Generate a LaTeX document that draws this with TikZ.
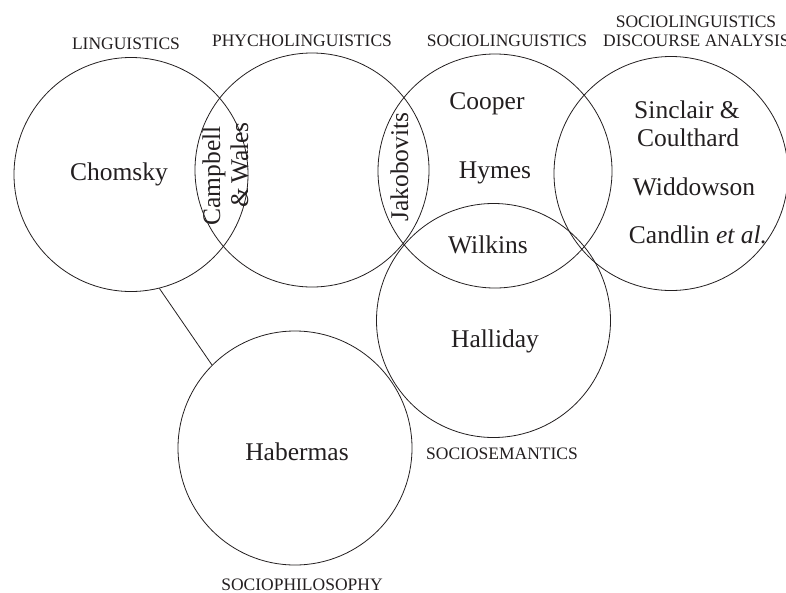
\documentclass[tikz,border=0pt]{standalone}
\usepackage{fontspec}
\setmainfont{Liberation Serif}
\definecolor{ink}{HTML}{231F20}
\begin{document}
\begin{tikzpicture}[x=1pt,y=-1pt,
  field/.style={circle,draw=ink,line width=0.8pt,minimum size=234pt,inner sep=0pt},
  area/.style={font=\fontsize{17.5}{19}\selectfont,text=ink,inner sep=0pt,anchor=base},
  who/.style={font=\fontsize{25.5}{28}\selectfont,text=ink,inner sep=0pt,anchor=base},
  link/.style={draw=ink,line width=0.8pt}]
\useasboundingbox (0,0) rectangle (786,592);
% circles
\node[field] (c1) at (131,174.5) {};
\node[field] (c2) at (312,170) {};
\node[field] (c3) at (495,171) {};
\node[field] (c4) at (671,173.5) {};
\node[field] (c5) at (493.5,320.5) {};
\node[field] (c6) at (295,448) {};
\draw[link] (c1.-76) -- (c6.135);
% field labels
\node[area] (l1) at (126,49) {LINGUISTICS};
\node[area] (l2) at (302,46) {PHYCHOLINGUISTICS};
\node[area] (l3) at (507,46) {SOCIOLINGUISTICS};
\node[area] (l4a) at (696,27) {SOCIOLINGUISTICS};
\node[area,anchor=base west] (l4b) at (603,46) {DISCOURSE ANALYSIS};
\node[area] (l5) at (502,459) {SOCIOSEMANTICS};
\node[area] (l6) at (302,590) {SOCIOPHILOSOPHY};
% names
\node[who] (chomsky) at (119,180) {Chomsky};
\node[who,rotate=90] (campbell) at (220,176) {Campbell};
\node[who,rotate=90] (wales) at (248,165) {\&\,Wales};
\node[who,rotate=90] (jako) at (408,167) {Jakobovits};
\node[who] (cooper) at (487,109) {Cooper};
\node[who] (hymes) at (495,178) {Hymes};
\node[who] (wilkins) at (488,253) {Wilkins};
\node[who] (sinclair) at (687,118) {Sinclair \&};
\node[who] (coulthard) at (688,146) {Coulthard};
\node[who] (widdowson) at (694,195) {Widdowson};
\node[who] (candlin) at (698,243) {Candlin \textit{et al.}};
\node[who] (halliday) at (495,347) {Halliday};
\node[who] (habermas) at (297,460) {Habermas};
\end{tikzpicture}
\end{document}
